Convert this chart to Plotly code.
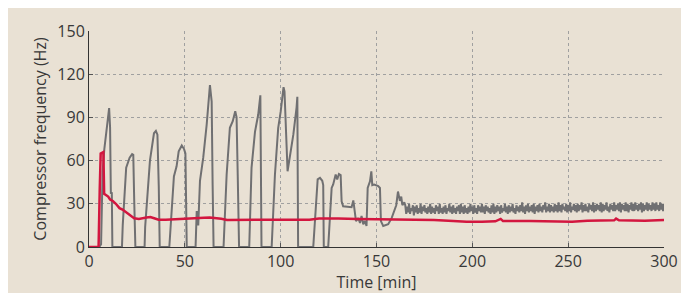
import plotly.graph_objects as go

# Gray: compressor frequency (cycling phase)
cycle_t = [0, 5.4, 6.3, 7.1, 8.0, 9.2, 10.5, 11.0, 11.4, 11.9, 12.2,
           17.2, 17.6, 19.4, 21.2, 22.5, 23.1, 23.6, 24.2,
           29.0, 29.3, 31.8, 33.9, 34.9, 35.7, 36.4, 36.9,
           41.9, 44.3, 45.7, 46.8, 48.4, 49.6, 50.3, 50.6, 51.0,
           55.6, 55.8, 56.2, 57.0, 57.9, 59.6, 61.4, 63.1, 64.0, 64.5, 65.0,
           70.2, 71.8, 73.5, 75.0, 76.3, 77.0, 77.6, 78.3,
           83.6, 84.8, 86.6, 88.3, 89.4, 89.7, 90.0,
           95.3, 97.0, 98.7, 100.0, 101.5, 102.0, 103.6, 104.8, 106.6, 108.3, 108.7, 108.9, 109.1,
           117.0, 118.2, 119.3, 120.5, 121.7, 122.2, 122.5,
           124.8, 126.6, 127.4, 128.7, 129.5, 130.4, 131.3, 131.8, 132.6, 135.3, 137.0, 137.9,
           138.5, 139.3, 140.5, 141.4, 142.2, 143.1, 144.0, 144.8, 145.4, 146.6, 147.3, 147.8,
           148.8, 150.9, 151.8, 152.3, 153.5, 156.1, 157.9, 159.6, 160.3, 161.2, 162.2, 162.9,
           163.5, 164.5]
cycle_hz = [0, 0, 2, 52, 68, 83, 96.5, 83, 37, 38, 0,
            0, 15, 55, 62, 64.5, 64, 32, 0,
            0, 14, 60, 79, 80.6, 78, 42, 0,
            0, 49, 56, 66.5, 70.5, 68, 65, 28, 0,
            0, 14, 25, 15, 46, 62, 85, 112.5, 101, 43, 0,
            0, 50, 82.8, 87.4, 94.3, 90, 50, 0,
            0, 55, 80, 92, 105.3, 50, 0,
            0, 50, 82.6, 94, 111, 108, 52.6, 62, 78, 97, 104.3, 50, 0,
            0, 27, 47, 48, 46, 43, 0,
            0, 41, 43.4, 50.3, 47, 50.7, 50, 31.8, 28.3, 28, 27.6, 32.3,
            27, 18, 20, 16.7, 21.5, 15.8, 18, 14.6, 41, 45.6, 52.6, 43,
            43.4, 42.3, 41, 18, 14.6, 15.8, 20, 27.2, 29, 38.5, 32, 35,
            29, 31]

# Gray: steady phase, sampled every 0.5 min from 165 min
steady_start = 165.0
steady_step = 0.5
steady_hz = [
    29, 23, 28, 24, 30, 23, 27, 25, 29, 22, 28, 24, 29, 23, 27, 24, 30, 23, 28, 25,
    29, 24, 27, 23, 28, 24, 30, 23, 28, 24, 27, 23, 29, 25, 28, 23, 30, 24, 27, 23,
    28, 24, 29, 23, 27, 25, 30, 24, 28, 23, 29, 24, 27, 23, 28, 25, 29, 23, 30, 24,
    28, 23, 29, 24, 27, 23, 28, 24, 30, 25, 28, 23, 29, 24, 27, 23, 29, 25, 28, 24,
    30, 24, 28, 23, 29, 25, 28, 24, 27, 23, 29, 24, 30, 23, 28, 24, 29, 25, 28, 23,
    29, 24, 27, 25, 30, 24, 28, 23, 29, 24, 28, 25, 30, 24, 27, 23, 29, 25, 28, 24,
    29, 25, 31, 24, 28, 23, 29, 25, 30, 24, 28, 25, 29, 24, 30, 23, 28, 25, 29, 24,
    30, 25, 28, 24, 29, 26, 31, 24, 28, 25, 30, 24, 29, 25, 28, 24, 30, 25, 29, 24,
    31, 25, 29, 24, 30, 26, 28, 25, 30, 24, 29, 25, 31, 24, 28, 26, 30, 25, 29, 24,
    30, 25, 29, 26, 31, 24, 29, 25, 30, 25, 28, 24, 30, 26, 29, 25, 31, 24, 29, 25,
    30, 26, 29, 25, 31, 24, 30, 25, 29, 26, 31, 25, 28, 24, 30, 26, 29, 25, 31, 25,
    29, 26, 30, 25, 31, 24, 30, 26, 29, 25, 31, 25, 30, 24, 29, 26, 31, 25, 30, 25,
    31, 26, 29, 25, 30, 26, 31, 24, 30, 25, 29, 26, 31, 25, 30, 26, 29, 25, 31, 26,
    30, 25, 31, 26, 29, 25, 31, 26, 30, 25, 30]

# Red series
red_t = [0, 5.0, 5.6, 6.1, 7.5, 7.9, 9.0, 10.0, 11.0, 12.4, 14.0, 15.9, 17.5, 19.3, 21.0,
         22.5, 23.6, 26.0, 30.0, 32.0, 34.0, 36.3, 40.0, 45.0, 50.0, 55.0, 60.0, 63.0, 66.0,
         69.0, 72.0, 80.0, 90.0, 100.0, 110.0, 115.0, 120.0, 125.0, 130.0, 140.0, 150.0,
         160.0, 170.0, 180.0, 190.0, 197.0, 205.0, 212.0, 214.8, 216.0, 230.0, 245.0, 252.0,
         260.0, 270.0, 274.0, 275.0, 276.5, 290.0, 300.0]
red_hz = [0, 0, 40, 65, 66, 37, 36, 35, 33, 32, 30, 27, 26, 24, 22,
          21, 20, 19.5, 20.5, 20.8, 20, 19, 19, 19.3, 19.3, 19.5, 20.3, 20.5, 20.3,
          19.6, 18.8, 18.8, 18.8, 19, 19, 19, 19.8, 20, 19.8, 19.5, 19.3,
          19, 19, 18.8, 18, 17.5, 17.5, 17.8, 19.5, 18, 18, 18, 17.6,
          18.3, 18.5, 18.5, 19.7, 18.5, 18.3, 18.7]

x_ticks = [0, 50, 100, 150, 200, 250, 300]
y_ticks = [0, 30, 60, 90, 120, 150]

steady_t = [steady_start + i * steady_step for i in range(len(steady_hz))]
gray_t = cycle_t + steady_t
gray_hz = cycle_hz + steady_hz

BG = "#E9E1D4"
fig = go.Figure()
fig.add_trace(go.Scatter(x=gray_t, y=gray_hz, mode="lines",
                         line=dict(color="#707072", width=2), showlegend=False))
fig.add_trace(go.Scatter(x=red_t, y=red_hz, mode="lines",
                         line=dict(color="#D3163F", width=2.5), showlegend=False))

# The page places the figure 8px from the window's top-left corner.
fig.update_layout(
    width=681, height=285,
    margin=dict(l=81, r=25, t=23, b=46),
    paper_bgcolor=BG, plot_bgcolor=BG,
    font=dict(family="Open Sans", size=16, color="#383838"),
)
fig.update_xaxes(range=[0, 300], tickvals=x_ticks, ticktext=[str(v) for v in x_ticks],
                 showgrid=True, gridcolor="#a0a0a0", griddash="dot", gridwidth=1,
                 showline=True, linecolor="#333333", linewidth=1,
                 ticks="inside", ticklen=4, tickcolor="#555555",
                 zeroline=False, automargin=False,
                 title=dict(text="Time [min]", standoff=6, font=dict(size=16)))
fig.update_yaxes(range=[0, 150], tickvals=y_ticks, ticktext=[str(v) for v in y_ticks],
                 showgrid=True, gridcolor="#a0a0a0", griddash="dot", gridwidth=1,
                 showline=True, linecolor="#333333", linewidth=1,
                 ticks="inside", ticklen=4, tickcolor="#555555",
                 zeroline=False, automargin=False,
                 title=dict(text="Compressor frequency (Hz)", standoff=6, font=dict(size=16)))

fig.write_html("out.html")
